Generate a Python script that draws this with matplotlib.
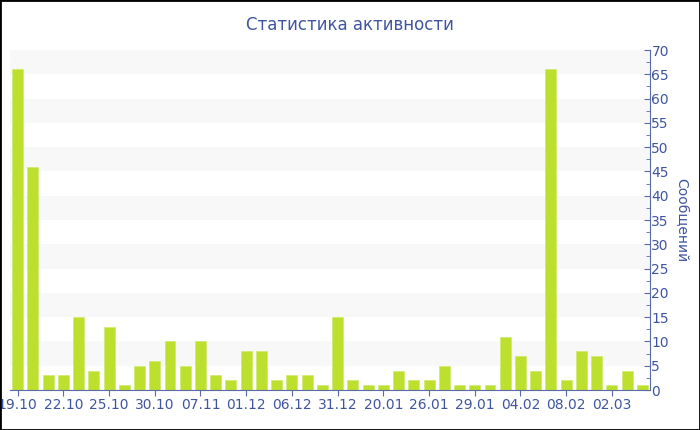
import numpy as np
import matplotlib
matplotlib.use('Agg')
import matplotlib.pyplot as plt
from matplotlib.ticker import MultipleLocator

# Message counts per day (bars, left to right)
counts = [66, 46, 3, 3, 15, 4, 13, 1, 5, 6, 10, 5, 10, 3, 2, 8, 8, 2, 3, 3, 1,
          15, 2, 1, 1, 4, 2, 2, 5, 1, 1, 1, 11, 7, 4, 66, 2, 8, 7, 1, 4, 1]
# Date labels shown under every third bar
tick_labels = ['19.10', '22.10', '25.10', '30.10', '07.11', '01.12', '06.12',
               '31.12', '20.01', '26.01', '29.01', '04.02', '08.02', '02.03']

text_col = '#3f55a0'
axis_col = '#5a6aa8'
bar_col = '#bde02f'

fig = plt.figure(figsize=(7, 4.3), dpi=100)
ax = fig.add_axes([10 / 700, 40 / 430, 640 / 700, 340 / 430])

# Alternating light bands
for lo in range(5, 70, 10):
    ax.axhspan(lo, lo + 5, color='#f8f8f8', zorder=0, lw=0)

x = np.arange(len(counts))
ax.bar(x, counts, width=0.72, color=bar_col, edgecolor='#cce864', linewidth=0.4, zorder=2)

ax.set_xlim(-0.5, len(counts) - 0.5)
ax.set_ylim(0, 70)

ax.set_xticks(x[::3])
ax.set_xticklabels(tick_labels)

ax.yaxis.tick_right()
ax.yaxis.set_label_position('right')
ax.yaxis.set_major_locator(MultipleLocator(5))
ax.yaxis.set_minor_locator(MultipleLocator(2.5))
ax.tick_params(axis='y', which='major', direction='in', length=4, color=axis_col,
               labelcolor=text_col, labelsize=10, pad=1)
ax.tick_params(axis='y', which='minor', direction='in', length=3, color=axis_col)
ax.tick_params(axis='x', direction='out', length=4, color=axis_col,
               labelcolor=text_col, labelsize=10, pad=2)
ax.set_ylabel('Сообщений', color=text_col, fontsize=10, rotation=-90, labelpad=14)

for side in ['top', 'left']:
    ax.spines[side].set_visible(False)
ax.spines['right'].set_color(axis_col)
ax.spines['bottom'].set_color(axis_col)

fig.text(0.5, 1 - 25 / 430, 'Статистика активности', color=text_col, fontsize=12,
         ha='center', va='center')

# Figure border
fig.patches.append(plt.Rectangle((0, 0), 1, 1, transform=fig.transFigure,
                                 fill=False, edgecolor='black', linewidth=2))

fig.savefig('out.png', dpi=100)
